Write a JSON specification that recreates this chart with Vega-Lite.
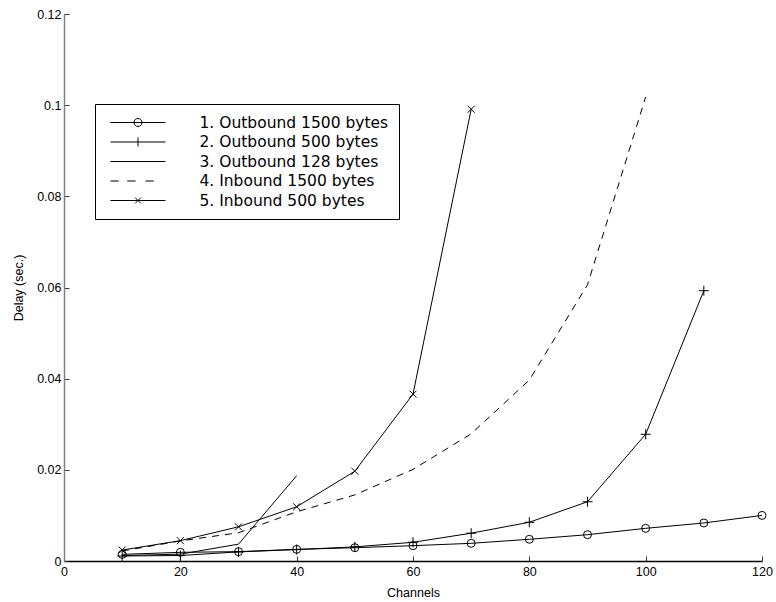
{
  "$schema": "https://vega.github.io/schema/vega-lite/v6.json",
  "width": 698,
  "height": 547,
  "autosize": {"type": "none"},
  "padding": {"left": 64, "top": 14, "right": 14, "bottom": 41},
  "background": "white",
  "config": {
    "view": {"stroke": null},
    "font": "Liberation Sans",
    "axis": {"labelFont": "Liberation Sans", "titleFont": "Liberation Sans", "labelColor": "black", "titleColor": "black", "titleFontWeight": "normal", "grid": false}
  },
  "datasets": {
    "delays": [
      {"series": "1. Outbound 1500 bytes", "channels": 10, "delay": 0.00146},
      {"series": "1. Outbound 1500 bytes", "channels": 20, "delay": 0.0019},
      {"series": "1. Outbound 1500 bytes", "channels": 30, "delay": 0.00205},
      {"series": "1. Outbound 1500 bytes", "channels": 40, "delay": 0.00256},
      {"series": "1. Outbound 1500 bytes", "channels": 50, "delay": 0.00292},
      {"series": "1. Outbound 1500 bytes", "channels": 60, "delay": 0.00336},
      {"series": "1. Outbound 1500 bytes", "channels": 70, "delay": 0.00388},
      {"series": "1. Outbound 1500 bytes", "channels": 80, "delay": 0.00476},
      {"series": "1. Outbound 1500 bytes", "channels": 90, "delay": 0.00577},
      {"series": "1. Outbound 1500 bytes", "channels": 100, "delay": 0.00717},
      {"series": "1. Outbound 1500 bytes", "channels": 110, "delay": 0.00834},
      {"series": "1. Outbound 1500 bytes", "channels": 120, "delay": 0.0100},
      {"series": "2. Outbound 500 bytes", "channels": 10, "delay": 0.0011},
      {"series": "2. Outbound 500 bytes", "channels": 20, "delay": 0.0012},
      {"series": "2. Outbound 500 bytes", "channels": 30, "delay": 0.0020},
      {"series": "2. Outbound 500 bytes", "channels": 40, "delay": 0.0025},
      {"series": "2. Outbound 500 bytes", "channels": 50, "delay": 0.0031},
      {"series": "2. Outbound 500 bytes", "channels": 60, "delay": 0.0041},
      {"series": "2. Outbound 500 bytes", "channels": 70, "delay": 0.0061},
      {"series": "2. Outbound 500 bytes", "channels": 80, "delay": 0.0085},
      {"series": "2. Outbound 500 bytes", "channels": 90, "delay": 0.0130},
      {"series": "2. Outbound 500 bytes", "channels": 100, "delay": 0.0278},
      {"series": "2. Outbound 500 bytes", "channels": 110, "delay": 0.0593},
      {"series": "3. Outbound 128 bytes", "channels": 10, "delay": 0.0012},
      {"series": "3. Outbound 128 bytes", "channels": 20, "delay": 0.0015},
      {"series": "3. Outbound 128 bytes", "channels": 30, "delay": 0.0037},
      {"series": "3. Outbound 128 bytes", "channels": 40, "delay": 0.0187},
      {"series": "4. Inbound 1500 bytes", "channels": 10, "delay": 0.0022},
      {"series": "4. Inbound 1500 bytes", "channels": 20, "delay": 0.0044},
      {"series": "4. Inbound 1500 bytes", "channels": 30, "delay": 0.0062},
      {"series": "4. Inbound 1500 bytes", "channels": 40, "delay": 0.0108},
      {"series": "4. Inbound 1500 bytes", "channels": 50, "delay": 0.0145},
      {"series": "4. Inbound 1500 bytes", "channels": 60, "delay": 0.0201},
      {"series": "4. Inbound 1500 bytes", "channels": 70, "delay": 0.0279},
      {"series": "4. Inbound 1500 bytes", "channels": 80, "delay": 0.0397},
      {"series": "4. Inbound 1500 bytes", "channels": 90, "delay": 0.0606},
      {"series": "4. Inbound 1500 bytes", "channels": 100, "delay": 0.1018},
      {"series": "5. Inbound 500 bytes", "channels": 10, "delay": 0.0024},
      {"series": "5. Inbound 500 bytes", "channels": 20, "delay": 0.00446},
      {"series": "5. Inbound 500 bytes", "channels": 30, "delay": 0.0075},
      {"series": "5. Inbound 500 bytes", "channels": 40, "delay": 0.0119},
      {"series": "5. Inbound 500 bytes", "channels": 50, "delay": 0.0197},
      {"series": "5. Inbound 500 bytes", "channels": 60, "delay": 0.0366},
      {"series": "5. Inbound 500 bytes", "channels": 70, "delay": 0.0991}
    ]
  },
  "data": {"name": "delays"},
  "encoding": {
    "x": {
      "field": "channels", "type": "quantitative", "title": "Channels",
      "scale": {"domain": [0, 120], "nice": false, "zero": false},
      "axis": {"values": [0, 20, 40, 60, 80, 100, 120], "tickSize": -5, "labelPadding": 9, "labelFontSize": 12.5, "titleFontSize": 12.5, "titlePadding": 9, "domainColor": "black", "domainWidth": 1.5, "tickColor": "#333", "labelFlush": false}
    },
    "y": {
      "field": "delay", "type": "quantitative", "title": "Delay (sec.)",
      "scale": {"domain": [0, 0.12], "nice": false},
      "axis": {"values": [0, 0.02, 0.04, 0.06, 0.08, 0.1, 0.12], "format": ".2~f", "tickSize": -5, "labelPadding": 8, "labelFontSize": 12.5, "titleFontSize": 12.5, "titlePadding": 11, "domainColor": "#808080", "domainWidth": 1.5, "tickColor": "#333", "labelFlush": false}
    }
  },
  "layer": [
    {
      "transform": [{"filter": "datum.series != '4. Inbound 1500 bytes'"}],
      "mark": {"type": "line", "color": "black", "strokeWidth": 1},
      "encoding": {"detail": {"field": "series"}}
    },
    {
      "transform": [{"filter": "datum.series == '4. Inbound 1500 bytes'"}],
      "mark": {"type": "line", "color": "black", "strokeWidth": 1, "strokeDash": [7, 6]},
      "encoding": {}
    },
    {
      "transform": [{"filter": "datum.series == '1. Outbound 1500 bytes'"}],
      "mark": {"type": "point", "shape": "circle", "filled": false, "size": 64, "color": "black", "strokeWidth": 1, "opacity": 1}
    },
    {
      "transform": [{"filter": "datum.series == '2. Outbound 500 bytes'"}],
      "mark": {"type": "point", "shape": "M-1,0H1M0,-1V1", "filled": false, "size": 100, "color": "black", "strokeWidth": 1, "opacity": 1}
    },
    {
      "transform": [{"filter": "datum.series == '5. Inbound 500 bytes'"}],
      "mark": {"type": "point", "shape": "M-1,-1L1,1M-1,1L1,-1", "filled": false, "size": 49, "color": "black", "strokeWidth": 1, "opacity": 1}
    },
    {
      "transform": [{"filter": "datum.channels < 0"}],
      "mark": {"type": "point", "filled": false, "size": 256, "color": "black", "strokeWidth": 1},
      "encoding": {
        "shape": {
          "field": "series", "type": "nominal",
          "scale": {
            "domain": ["1. Outbound 1500 bytes", "2. Outbound 500 bytes", "3. Outbound 128 bytes", "4. Inbound 1500 bytes", "5. Inbound 500 bytes"],
            "range": [
              "M-3.44,0H3.44M0.5,0A0.5,0.5 0 1,1 -0.5,0A0.5,0.5 0 1,1 0.5,0",
              "M-3.44,0H3.44M0,-0.56V0.56",
              "M-3.44,0H3.44",
              "M-3.44,0H-2.4M-1.35,0H-0.31M0.94,0H1.97",
              "M-3.44,0H3.44M-0.36,-0.36L0.36,0.36M-0.36,0.36L0.36,-0.36"
            ]
          },
          "legend": {
            "title": null,
            "orient": "none",
            "legendX": 31,
            "legendY": 90,
            "padding": 10,
            "strokeColor": "black",
            "fillColor": "white",
            "symbolSize": 256,
            "symbolStrokeColor": "black",
            "symbolFillColor": "transparent",
            "symbolStrokeWidth": 1,
            "symbolOpacity": 1,
            "symbolOffset": 24.5,
            "labelOffset": 53,
            "labelFont": "DejaVu Sans",
            "labelFontSize": 15.5,
            "labelColor": "black",
            "labelLimit": 400,
            "rowPadding": 2.5
          }
        }
      }
    }
  ]
}
